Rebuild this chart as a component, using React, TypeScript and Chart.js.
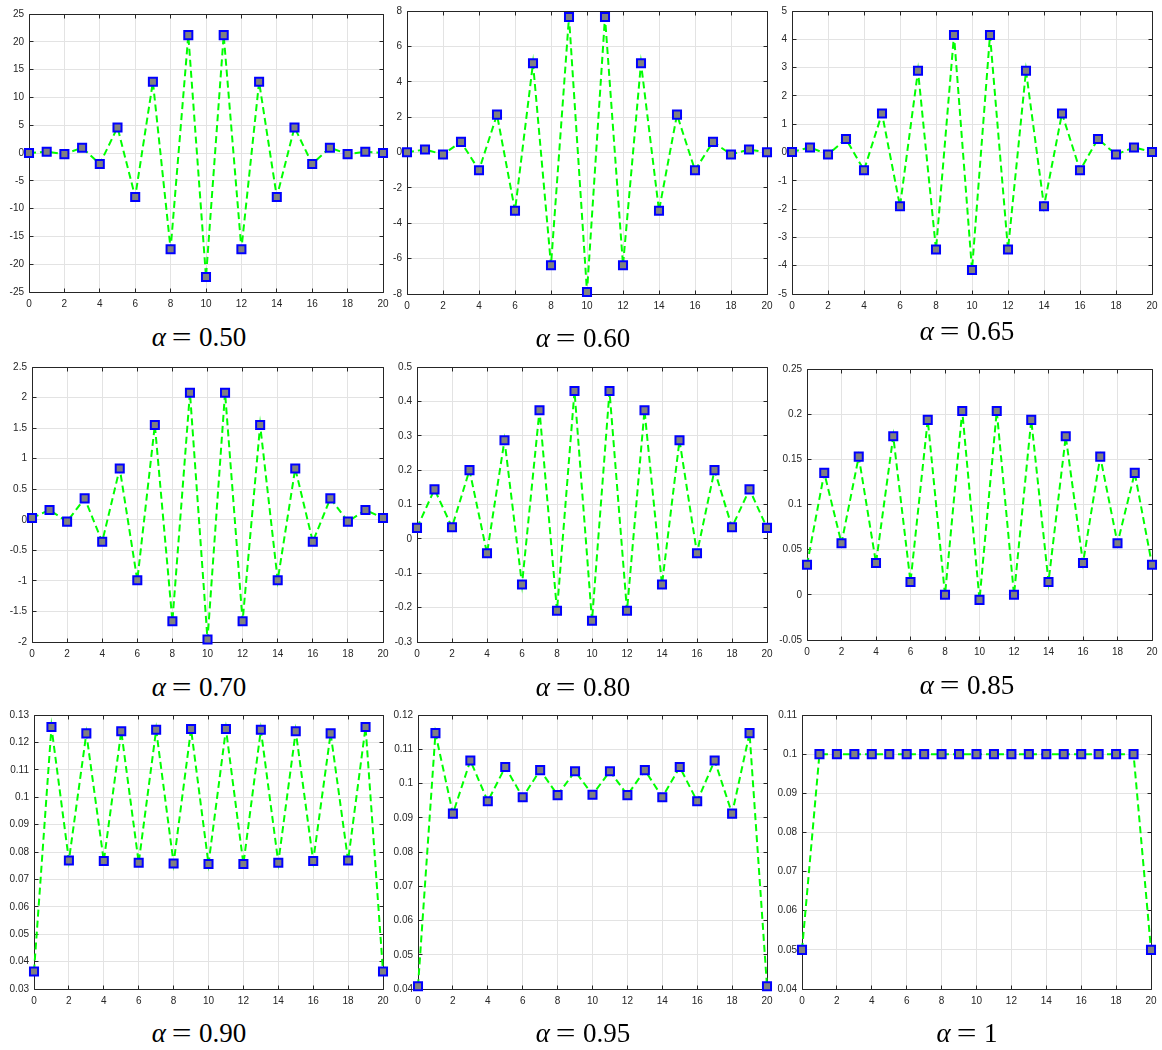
import React, { useEffect, useRef } from "react";
import { Chart, registerables } from "chart.js";

Chart.register(...registerables);

// ---------- data ----------
const X_INDEX = [0, 1, 2, 3, 4, 5, 6, 7, 8, 9, 10, 11, 12, 13, 14, 15, 16, 17, 18, 19, 20];

const Y_ALPHA_050 = [0, 0.24, -0.2, 0.95, -1.97, 4.6, -7.9, 12.8, -17.3, 21.2, -22.3, 21.2, -17.3, 12.8, -7.9, 4.6, -1.97, 0.95, -0.2, 0.24, 0];
const Y_ALPHA_060 = [0.01, 0.17, -0.11, 0.6, -1.0, 2.14, -3.29, 5.05, -6.37, 7.66, -7.89, 7.66, -6.37, 5.05, -3.29, 2.14, -1.0, 0.6, -0.11, 0.17, 0.01];
const Y_ALPHA_065 = [0.02, 0.18, -0.07, 0.48, -0.63, 1.38, -1.9, 2.89, -3.43, 4.15, -4.15, 4.15, -3.43, 2.89, -1.9, 1.38, -0.63, 0.48, -0.07, 0.18, 0.02];
const Y_ALPHA_070 = [0.03, 0.16, -0.03, 0.35, -0.36, 0.84, -0.99, 1.55, -1.66, 2.08, -1.96, 2.08, -1.66, 1.55, -0.99, 0.84, -0.36, 0.35, -0.03, 0.16, 0.03];
const Y_ALPHA_080 = [0.032, 0.144, 0.034, 0.2, -0.042, 0.287, -0.133, 0.374, -0.209, 0.43, -0.238, 0.43, -0.209, 0.374, -0.133, 0.287, -0.042, 0.2, 0.034, 0.144, 0.032];
const Y_ALPHA_085 = [0.0333, 0.135, 0.0572, 0.153, 0.0352, 0.1755, 0.0143, 0.1937, 0.0, 0.2036, -0.0056, 0.2036, 0.0, 0.1937, 0.0143, 0.1755, 0.0352, 0.153, 0.0572, 0.135, 0.0333];
const Y_ALPHA_090 = [0.0364, 0.1256, 0.0769, 0.1233, 0.0767, 0.1241, 0.0761, 0.1246, 0.0758, 0.1249, 0.0756, 0.1249, 0.0756, 0.1246, 0.0761, 0.1241, 0.0767, 0.1233, 0.0769, 0.1256, 0.0364];
const Y_ALPHA_095 = [0.0408, 0.1147, 0.0912, 0.1067, 0.0948, 0.1048, 0.096, 0.1039, 0.0966, 0.1036, 0.0967, 0.1036, 0.0966, 0.1039, 0.096, 0.1048, 0.0948, 0.1067, 0.0912, 0.1147, 0.0408];
const Y_ALPHA_100 = [0.05, 0.1, 0.1, 0.1, 0.1, 0.1, 0.1, 0.1, 0.1, 0.1, 0.1, 0.1, 0.1, 0.1, 0.1, 0.1, 0.1, 0.1, 0.1, 0.1, 0.05];

// y axis ranges [min, max, step]
const Y_AXIS_050 = [-25, 25, 5];
const Y_AXIS_060 = [-8, 8, 2];
const Y_AXIS_065 = [-5, 5, 1];
const Y_AXIS_070 = [-2, 2.5, 0.5];
const Y_AXIS_080 = [-0.3, 0.5, 0.1];
const Y_AXIS_085 = [-0.05, 0.25, 0.05];
const Y_AXIS_090 = [0.03, 0.13, 0.01];
const Y_AXIS_095 = [0.04, 0.12, 0.01];
const Y_AXIS_100 = [0.04, 0.11, 0.01];

// x axis [min, max, step]
const X_AXIS = [0, 20, 2];

const CAPTIONS = ["0.50", "0.60", "0.65", "0.70", "0.80", "0.85", "0.90", "0.95", "1"];

// ---------- layout (plot-area boxes in page pixels) ----------
const PANELS = [
  { y: Y_ALPHA_050, axis: Y_AXIS_050, caption: CAPTIONS[0], box: [29, 13, 383, 292], cap: [199, 347] },
  { y: Y_ALPHA_060, axis: Y_AXIS_060, caption: CAPTIONS[1], box: [407, 10, 767, 294], cap: [583, 348] },
  { y: Y_ALPHA_065, axis: Y_AXIS_065, caption: CAPTIONS[2], box: [792, 10, 1152, 294], cap: [967, 341] },
  { y: Y_ALPHA_070, axis: Y_AXIS_070, caption: CAPTIONS[3], box: [32, 366, 383, 642], cap: [199, 697] },
  { y: Y_ALPHA_080, axis: Y_AXIS_080, caption: CAPTIONS[4], box: [417, 366, 767, 642], cap: [583, 697] },
  { y: Y_ALPHA_085, axis: Y_AXIS_085, caption: CAPTIONS[5], box: [807, 368, 1152, 640], cap: [967, 695] },
  { y: Y_ALPHA_090, axis: Y_AXIS_090, caption: CAPTIONS[6], box: [34, 714, 383, 989], cap: [199, 1043] },
  { y: Y_ALPHA_095, axis: Y_AXIS_095, caption: CAPTIONS[7], box: [418, 714, 767, 989], cap: [583, 1043] },
  { y: Y_ALPHA_100, axis: Y_AXIS_100, caption: CAPTIONS[8], box: [802, 714, 1151, 989], cap: [967, 1043] },
];

const PAD_LEFT = 60;
const PAD_TOP = 10;
const PAD_RIGHT = 12;
const PAD_BOTTOM = 25;

const AXIS_COLOR = "#262626";
const GRID_COLOR = "#e3e3e3";
const TICK_LEN = 4;
const TICK_FONT = "'Liberation Sans', Arial, Helvetica, sans-serif";
const CAPTION_FONT = "'Liberation Serif', 'Times New Roman', serif";

const align = (p: number) => Math.round(p - 0.5) + 0.5;

const boxPlugin = {
  id: "matlabBox",
  beforeDatasetsDraw(chart: any) {
    const { ctx, chartArea: a, scales } = chart;
    const xs = scales.x;
    const ys = scales.y;
    const l = align(a.left);
    const r = align(a.right);
    const t = align(a.top);
    const b = align(a.bottom);
    ctx.save();
    ctx.strokeStyle = AXIS_COLOR;
    ctx.lineWidth = 1;
    ctx.beginPath();
    ctx.rect(l, t, r - l, b - t);
    ctx.stroke();
    ctx.beginPath();
    for (const tk of xs.ticks) {
      const px = align(xs.getPixelForValue(tk.value));
      ctx.moveTo(px, t);
      ctx.lineTo(px, t + TICK_LEN);
      ctx.moveTo(px, b);
      ctx.lineTo(px, b - TICK_LEN);
    }
    for (const tk of ys.ticks) {
      const py = align(ys.getPixelForValue(tk.value));
      ctx.moveTo(l, py);
      ctx.lineTo(l + TICK_LEN, py);
      ctx.moveTo(r, py);
      ctx.lineTo(r - TICK_LEN, py);
    }
    ctx.stroke();
    ctx.restore();
  },
};

const fmt = (v: number) => String(Number(Number(v).toFixed(6)));

function Panel({ panel }: { panel: (typeof PANELS)[number] }) {
  const ref = useRef<HTMLCanvasElement | null>(null);
  const [L, T, R, B] = panel.box;
  const width = R - L + PAD_LEFT + PAD_RIGHT;
  const height = B - T + PAD_TOP + PAD_BOTTOM;

  useEffect(() => {
    if (!ref.current) return;
    const points = X_INDEX.map((x, i) => ({ x, y: panel.y[i] }));
    const chart = new Chart(ref.current, {
      type: "line",
      data: {
        datasets: [
          {
            data: points,
            borderColor: "#00ff00",
            borderWidth: 2,
            borderDash: [7, 4],
            pointStyle: "rect",
            pointRadius: 5.7,
            pointBorderWidth: 2,
            pointBorderColor: "#0000ff",
            pointBackgroundColor: "#808080",
            fill: false,
            tension: 0,
            clip: false,
          } as any,
        ],
      },
      options: {
        animation: false,
        responsive: false,
        events: [],
        layout: { padding: { left: 0, top: PAD_TOP, right: PAD_RIGHT, bottom: 0 } },
        plugins: { legend: { display: false }, tooltip: { enabled: false } },
        scales: {
          x: {
            type: "linear",
            min: X_AXIS[0],
            max: X_AXIS[1],
            afterFit: (s: any) => {
              s.height = PAD_BOTTOM;
            },
            ticks: {
              stepSize: X_AXIS[2],
              padding: 6,
              color: AXIS_COLOR,
              font: { family: TICK_FONT, size: 10 },
              maxRotation: 0,
              autoSkip: false,
              callback: (v: any) => fmt(v),
            },
            grid: { color: GRID_COLOR, lineWidth: 1, drawTicks: false },
            border: { display: false },
          },
          y: {
            type: "linear",
            min: panel.axis[0],
            max: panel.axis[1],
            afterFit: (s: any) => {
              s.width = PAD_LEFT;
            },
            ticks: {
              stepSize: panel.axis[2],
              padding: 5,
              color: AXIS_COLOR,
              font: { family: TICK_FONT, size: 10 },
              autoSkip: false,
              callback: (v: any) => fmt(v),
            },
            grid: { color: GRID_COLOR, lineWidth: 1, drawTicks: false },
            border: { display: false },
          },
        },
      },
      plugins: [boxPlugin],
    });
    return () => chart.destroy();
  }, [panel]);

  const fs = 27;
  return (
    <>
      <canvas
        ref={ref}
        width={width}
        height={height}
        style={{ position: "absolute", left: L - PAD_LEFT, top: T - PAD_TOP, width, height }}
      />
      <div
        style={{
          position: "absolute",
          left: panel.cap[0] - 120,
          width: 240,
          top: panel.cap[1] - 0.8375 * fs,
          textAlign: "center",
          fontFamily: CAPTION_FONT,
          fontSize: fs,
          lineHeight: `${fs}px`,
          color: "#000",
          whiteSpace: "nowrap",
        }}
      >
        <span style={{ fontStyle: "italic" }}>α</span>
        <span style={{ display: "inline-block", margin: "0 10px 0 8px", transform: "scaleX(1.3)" }}>=</span>
        <span>{panel.caption}</span>
      </div>
    </>
  );
}

export default function App() {
  return (
    <div style={{ position: "absolute", left: 0, top: 0, width: 1162, height: 1050, background: "#fff" }}>
      {PANELS.map((p, i) => (
        <Panel key={i} panel={p} />
      ))}
    </div>
  );
}
